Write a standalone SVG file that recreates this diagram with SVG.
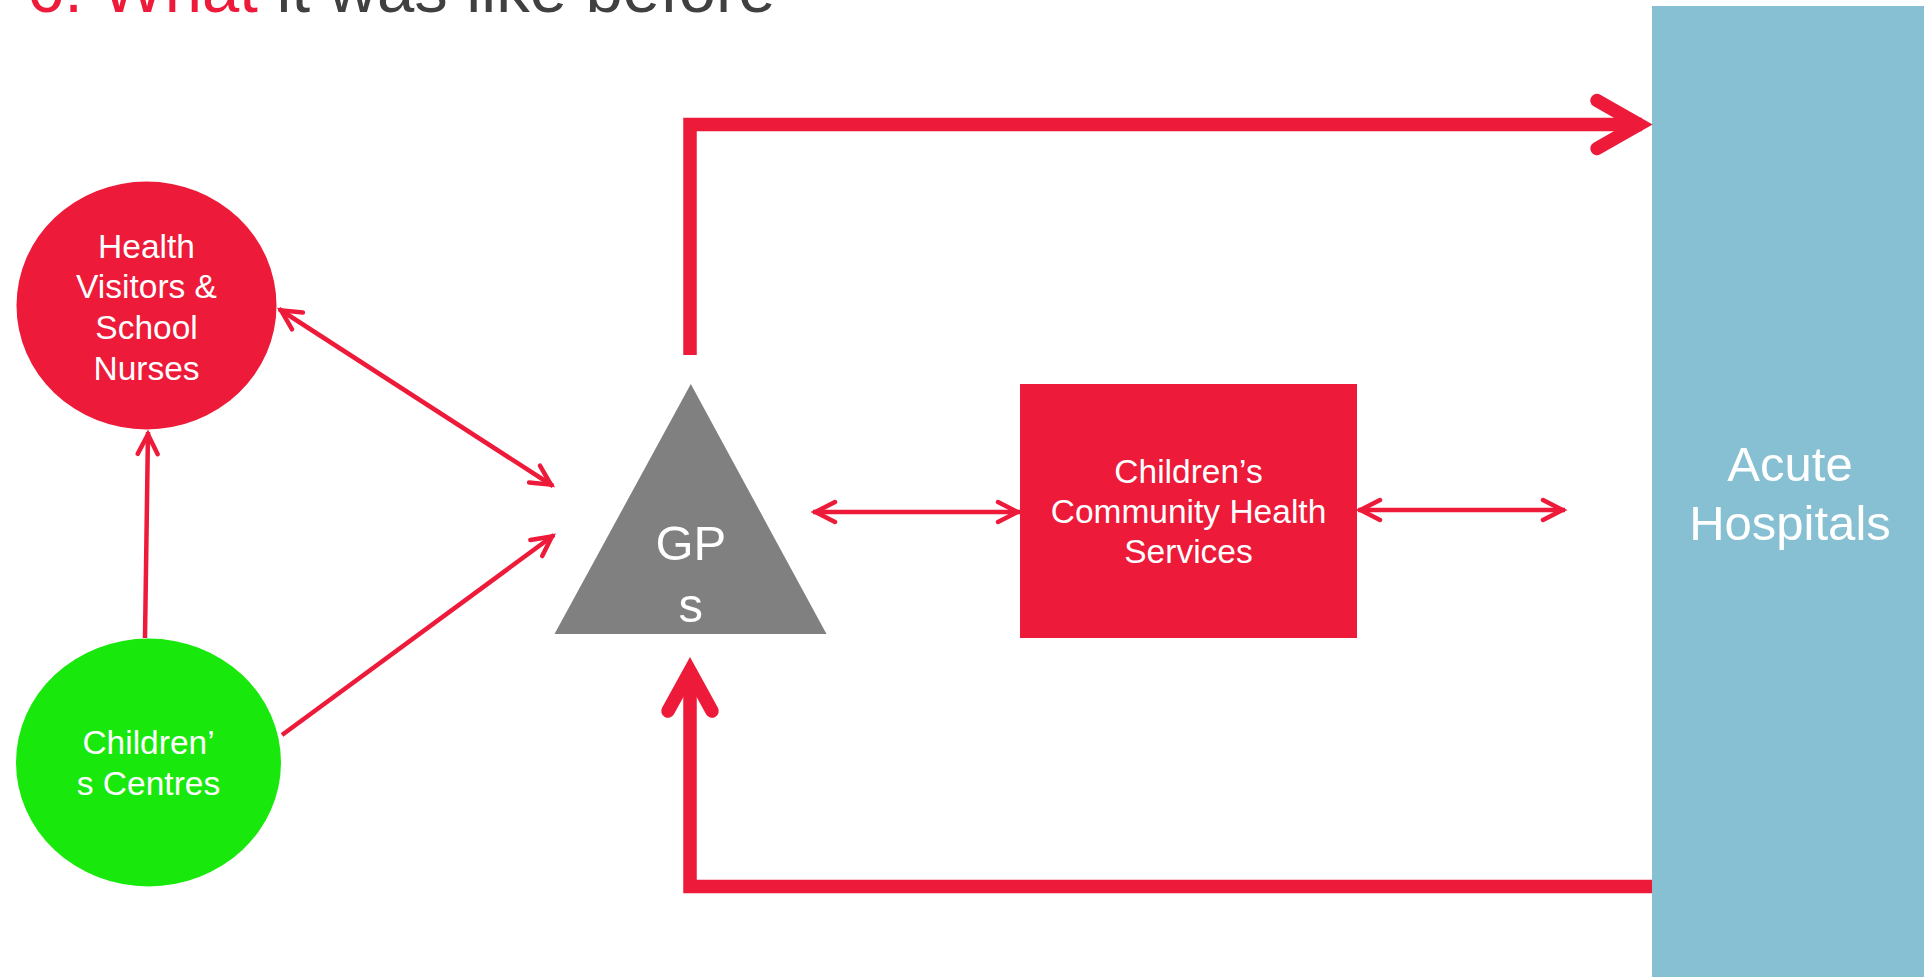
<svg xmlns="http://www.w3.org/2000/svg" width="1924" height="977" viewBox="0 0 1924 977">
  <style>
    .lbl { font-family: "Liberation Sans", Arial, sans-serif; fill: #ffffff; text-anchor: middle; }
    .sm { font-size: 33.5px; }
    .lg { font-size: 49px; }
    .thin { fill: none; stroke: #ED1A39; stroke-width: 4.5; stroke-linecap: butt; }
    .thick { fill: none; stroke: #ED1A39; stroke-width: 13.5; stroke-linejoin: miter; }
    .head { fill: none; stroke: #ED1A39; stroke-width: 13.5; stroke-linejoin: miter; stroke-linecap: round; }
    .title { font-family: "Liberation Sans", Arial, sans-serif; font-size: 67px; }
  </style>
  <defs>
    <marker id="chev" markerUnits="userSpaceOnUse" viewBox="-28 -14 32 28" refX="0" refY="0" markerWidth="32" markerHeight="28" orient="auto-start-reverse">
      <path d="M-22,-10 L-2.5,0 L-22,10" fill="none" stroke="#ED1A39" stroke-width="4.5" stroke-linejoin="miter" stroke-linecap="round"/>
    </marker>
  </defs>

  <rect width="1924" height="977" fill="#ffffff"/>

  <!-- heading, partly above the top edge -->
  <text class="title" x="27" y="12"><tspan fill="#ED1A39">6. What</tspan><tspan fill="#404040"> it was like before</tspan></text>

  <!-- nodes -->
  <g id="acute-hospitals">
    <rect x="1652" y="6" width="272" height="971" fill="#86C0D2"/>
    <text class="lbl lg" x="1790" y="481">Acute</text>
    <text class="lbl lg" x="1790" y="540">Hospitals</text>
  </g>

  <g id="health-visitors">
    <ellipse cx="146.5" cy="305.5" rx="130" ry="124" fill="#ED1A39"/>
    <text class="lbl sm" x="146.5" y="258">Health</text>
    <text class="lbl sm" x="146.5" y="298">Visitors &amp;</text>
    <text class="lbl sm" x="146.5" y="339">School</text>
    <text class="lbl sm" x="146.5" y="380">Nurses</text>
  </g>

  <g id="childrens-centres">
    <ellipse cx="148.5" cy="762.5" rx="132.5" ry="124" fill="#18E80C"/>
    <text class="lbl sm" x="148.5" y="754">Children’</text>
    <text class="lbl sm" x="148.5" y="795">s Centres</text>
  </g>

  <g id="gps">
    <polygon points="690.8,384 554.5,634 826.5,634" fill="#808080"/>
    <text class="lbl lg" x="690.8" y="560">GP</text>
    <text class="lbl lg" x="690.8" y="622">s</text>
  </g>

  <g id="community-health">
    <rect x="1020" y="384" width="337" height="254" fill="#ED1A39"/>
    <text class="lbl sm" x="1188.5" y="483">Children’s</text>
    <text class="lbl sm" x="1188.5" y="523">Community Health</text>
    <text class="lbl sm" x="1188.5" y="563">Services</text>
  </g>

  <!-- connectors -->
  <g id="connectors">
    <line class="thin" x1="279" y1="309" x2="553" y2="486" marker-start="url(#chev)" marker-end="url(#chev)"/>
    <line class="thin" x1="282" y1="735" x2="554" y2="535" marker-end="url(#chev)"/>
    <line class="thin" x1="145" y1="638" x2="148" y2="432" marker-end="url(#chev)"/>
    <line class="thin" x1="813" y1="512" x2="1020" y2="512" marker-start="url(#chev)" marker-end="url(#chev)"/>
    <line class="thin" x1="1358" y1="510" x2="1565" y2="510" marker-start="url(#chev)" marker-end="url(#chev)"/>

    <!-- GP referral route up and across to hospital -->
    <path class="thick" d="M690,355 V124.5 H1642"/>
    <polyline class="head" points="1597,100.5 1639,124.5 1597,148.5"/>

    <!-- hospital back to GP along the bottom -->
    <path class="thick" d="M1652,886.5 H690 V674"/>
    <polyline class="head" points="668,711 690,671 712,711"/>
  </g>
</svg>
